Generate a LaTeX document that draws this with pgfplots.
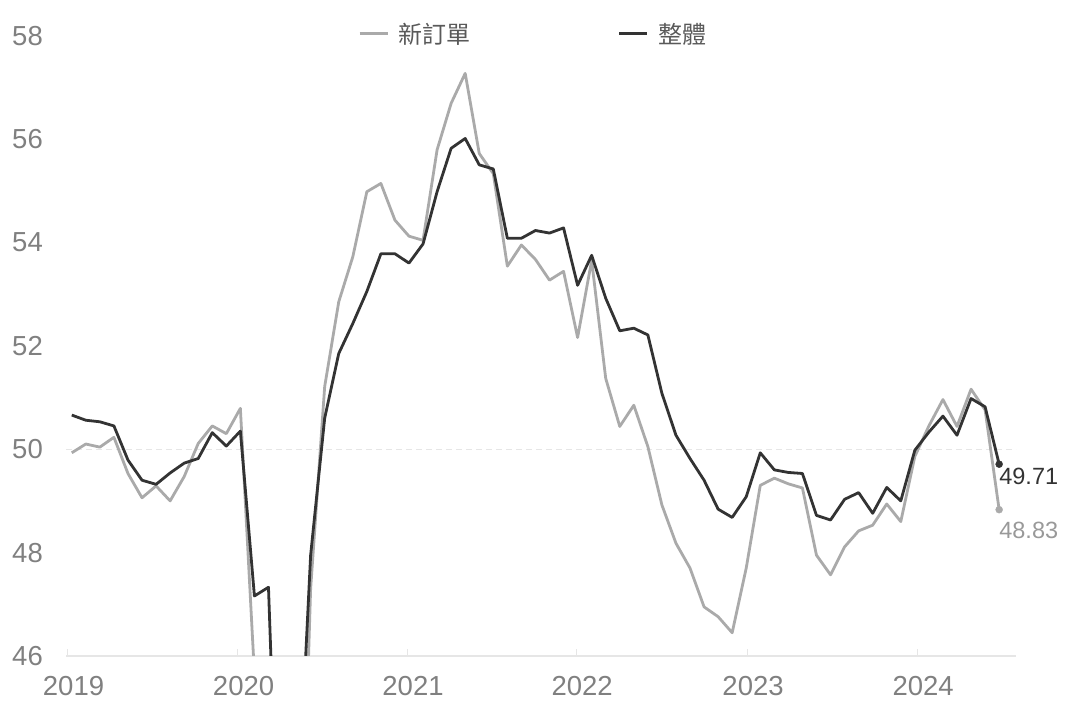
\documentclass[border=0pt]{standalone}
\usepackage{pgfplots}
\pgfplotsset{compat=1.18}
\usepackage{pgfplotstable}
\usepackage{fontspec}
\setmainfont{Liberation Sans}
\newfontfamily\cjk{Noto Sans CJK TC}
\definecolor{dk}{HTML}{333333}
\definecolor{lg}{HTML}{AAAAAA}
\definecolor{tk}{HTML}{808080}
\definecolor{gridc}{HTML}{E6E6E6}
\definecolor{leg}{HTML}{595959}
\definecolor{lbl}{HTML}{999999}

\pgfplotstableread{
x g d
0 49.93 50.66
1 50.10 50.56
2 50.04 50.53
3 50.23 50.45
4 49.53 49.79
5 49.06 49.40
6 49.29 49.32
7 49.00 49.54
8 49.47 49.73
9 50.11 49.82
10 50.45 50.32
11 50.30 50.06
12 50.79 50.35
13 45.65 47.16
14 44.00 47.33
15 33.00 39.60
16 38.50 42.40
17 47.30 47.95
18 51.21 50.60
19 52.85 51.85
20 53.72 52.43
21 54.98 53.05
22 55.14 53.78
23 54.43 53.78
24 54.12 53.60
25 54.04 53.97
26 55.79 54.98
27 56.69 55.82
28 57.27 56.01
29 55.72 55.50
30 55.33 55.42
31 53.54 54.08
32 53.95 54.08
33 53.67 54.23
34 53.27 54.18
35 53.44 54.28
36 52.16 53.17
37 53.65 53.75
38 51.37 52.92
39 50.44 52.29
40 50.85 52.34
41 50.05 52.21
42 48.92 51.08
43 48.18 50.27
44 47.70 49.82
45 46.95 49.40
46 46.76 48.84
47 46.45 48.68
48 47.70 49.08
49 49.30 49.93
50 49.44 49.60
51 49.33 49.55
52 49.25 49.53
53 47.95 48.72
54 47.57 48.63
55 48.11 49.03
56 48.42 49.16
57 48.53 48.76
58 48.94 49.26
59 48.60 49.00
60 49.86 49.98
61 50.45 50.33
62 50.96 50.64
63 50.44 50.27
64 51.16 50.98
65 50.76 50.82
66 48.83 49.71
}\pmi

\begin{document}
\begin{tikzpicture}
\useasboundingbox (-66pt,-62pt) rectangle (1011pt,656pt);
\begin{axis}[
  scale only axis, width=950pt, height=620.4pt,
  at={(0pt,0pt)}, anchor=south west,
  xmin=-0.41, xmax=67.2, ymin=46, ymax=58,
  ytick={46,48,...,58},
  xtick={-0.3,11.8,23.86,35.9,48.06,60.16},
  xticklabels={2019,2020,2021,2022,2023,2024},
  axis lines*=left,
  x axis line style={draw=gridc, line width=1.5pt},
  y axis line style={draw=none},
  tick align=inside, major tick length=7pt,
  xtick style={draw=gridc, line width=1pt},
  ytick style={draw=none},
  tick label style={font=\fontsize{27.5}{30}\selectfont, text=tk},
  xticklabel style={inner sep=0pt, anchor=north, yshift=-20pt, xshift=6pt},
  yticklabel style={inner sep=0pt, anchor=east, xshift=-23pt},
  /pgf/number format/assume math mode=true,
  extra y ticks={50}, extra y tick labels={},
  extra y tick style={grid=major, major tick length=0pt, major grid style={draw=gridc, dash pattern=on 6pt off 4pt, line width=1.2pt}},
  clip mode=individual,
  legend columns=2,
  legend style={at={(0.492,1.003)}, anchor=center, draw=none, fill=none,
    font=\cjk\fontsize{24}{28}\selectfont, text=leg,
    /tikz/every odd column/.append style={column sep=8pt},
    /tikz/every even column/.append style={column sep=145pt}},
  legend image code/.code={\draw[#1] (0pt,0pt) -- (28pt,0pt);},
]
\addplot[color=lg, line width=2.8pt, line join=round, mark=none] table[x=x,y=g] {\pmi};
\addlegendentry{新訂單}
\addplot[color=dk, line width=2.8pt, line join=round, mark=none] table[x=x,y=d] {\pmi};
\addlegendentry{整體}
\addplot[forget plot, only marks, mark=*, mark size=3.5pt, color=lg] coordinates {(66,48.83)};
\addplot[forget plot, only marks, mark=*, mark size=3.5pt, color=dk] coordinates {(66,49.71)};
\node[anchor=north west, inner sep=0pt, text=dk, font=\fontsize{23.5}{26}\selectfont, yshift=-4pt] at (axis cs:66,49.71) {49.71};
\node[anchor=north west, inner sep=0pt, text=lbl, font=\fontsize{23.5}{26}\selectfont, yshift=-12pt] at (axis cs:66,48.83) {48.83};
\end{axis}
\end{tikzpicture}
\end{document}
